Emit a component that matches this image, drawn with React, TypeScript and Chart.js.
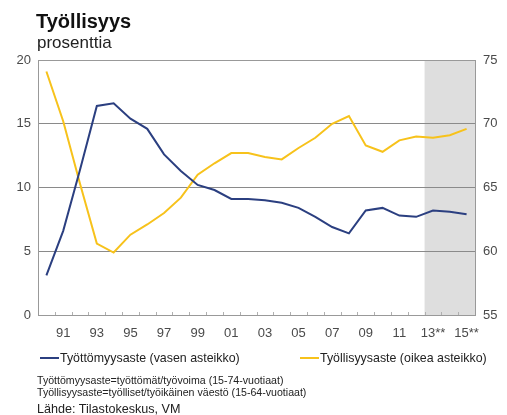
import React, { useEffect, useRef } from "react";
import { Chart, registerables } from "chart.js";

Chart.register(...registerables);

const years = ["1990","1991","1992","1993","1994","1995","1996","1997","1998","1999","2000","2001","2002","2003","2004","2005","2006","2007","2008","2009","2010","2011","2012","2013","2014","2015"];
const xTickLabels = ["","91","","93","","95","","97","","99","","01","","03","","05","","07","","09","","11","","13**","","15**"];
const unemployment = [3.1,6.6,11.4,16.4,16.6,15.4,14.6,12.6,11.3,10.2,9.8,9.1,9.1,9.0,8.8,8.4,7.7,6.9,6.4,8.2,8.4,7.8,7.7,8.2,8.1,7.9];
const employment = [74.1,70.2,65.3,60.6,59.9,61.3,62.1,63.0,64.2,66.0,66.9,67.7,67.7,67.4,67.2,68.1,68.9,70.0,70.6,68.3,67.8,68.7,69.0,68.9,69.1,69.6];
const forecastStartIndex = 23;

const BLUE = "#2b3f80";
const YELLOW = "#f7c21b";
const FONT = "'Liberation Sans', Arial, sans-serif";

export default function App() {
  const ref = useRef<HTMLCanvasElement | null>(null);
  useEffect(() => {
    document.body.style.margin = "0";
    const shade = {
      id: "shade",
      beforeDraw(chart: any) {
        const { ctx, chartArea, scales } = chart;
        const x = scales.x;
        const start = (x.getPixelForValue(forecastStartIndex - 1) + x.getPixelForValue(forecastStartIndex)) / 2;
        ctx.save();
        ctx.fillStyle = "#dedede";
        ctx.fillRect(start, chartArea.top, chartArea.right - start, chartArea.bottom - chartArea.top);
        ctx.restore();
      },
      afterDatasetsDraw(chart: any) {
        const { ctx, chartArea, scales } = chart;
        const x = scales.x;
        ctx.save();
        ctx.strokeStyle = "#b0b0b0";
        ctx.lineWidth = 1;
        for (let i = 0; i < years.length - 1; i++) {
          const p = Math.round((x.getPixelForValue(i) + x.getPixelForValue(i + 1)) / 2) + 0.5;
          ctx.beginPath();
          ctx.moveTo(p, chartArea.bottom);
          ctx.lineTo(p, chartArea.bottom - 3);
          ctx.stroke();
        }
        ctx.strokeStyle = "#999";
        ctx.strokeRect(Math.round(chartArea.left) + 0.5, Math.round(chartArea.top) + 0.5, Math.round(chartArea.right - chartArea.left), Math.round(chartArea.bottom - chartArea.top));
        ctx.restore();
      },
    };
    const chart = new Chart(ref.current!, {
      type: "line",
      data: {
        labels: years,
        datasets: [
          { label: "Työttömyysaste (vasen asteikko)", data: unemployment, borderColor: BLUE, borderWidth: 2, pointRadius: 0, tension: 0, yAxisID: "y" },
          { label: "Työllisyysaste (oikea asteikko)", data: employment, borderColor: YELLOW, borderWidth: 2, pointRadius: 0, tension: 0, yAxisID: "y1" },
        ],
      },
      options: {
        animation: false,
        responsive: false,
        layout: { padding: { top: 60, bottom: 73, left: 0, right: 0 } },
        plugins: { legend: { display: false }, tooltip: { enabled: false }, title: { display: false } },
        scales: {
          x: {
            offset: true,
            grid: { display: false },
            border: { display: false },
            ticks: {
              autoSkip: false,
              maxRotation: 0,
              padding: 3,
              color: "#4a4a4a",
              font: { family: FONT, size: 13 },
              callback: (_v: any, i: number) => xTickLabels[i],
            },
            afterFit: (s: any) => { s.height = 27; },
          },
          y: {
            position: "left",
            min: 0,
            max: 20,
            border: { display: false },
            grid: { color: "#8a8a8a", lineWidth: 1, drawTicks: false },
            ticks: { stepSize: 5, padding: 7, color: "#4a4a4a", font: { family: FONT, size: 13 } },
            afterFit: (s: any) => { s.width = 38; },
          },
          y1: {
            position: "right",
            min: 55,
            max: 75,
            border: { display: false },
            grid: { display: false, drawTicks: false },
            ticks: { stepSize: 5, padding: 8, color: "#4a4a4a", font: { family: FONT, size: 13 } },
            afterFit: (s: any) => { s.width = 32; },
          },
        },
      },
      plugins: [shade],
    });
    return () => chart.destroy();
  }, []);

  const abs: React.CSSProperties = { position: "absolute", fontFamily: FONT, color: "#222", whiteSpace: "nowrap", lineHeight: 1 };
  return (
    <div style={{ position: "relative", width: 507, height: 415, background: "#fff" }}>
      <canvas ref={ref} width={507} height={415} style={{ position: "absolute", left: 0, top: 0 }} />
      <div style={{ ...abs, left: 36, top: 11, fontSize: 20, fontWeight: "bold", color: "#111" }}>Työllisyys</div>
      <div style={{ ...abs, left: 37, top: 34, fontSize: 17, color: "#222" }}>prosenttia</div>
      <div style={{ ...abs, left: 40, top: 352, fontSize: 12.4, display: "flex", alignItems: "center" }}>
        <span style={{ display: "inline-block", width: 19, height: 2, background: BLUE, marginRight: 1 }} />
        Työttömyysaste (vasen asteikko)
      </div>
      <div style={{ ...abs, left: 300, top: 352, fontSize: 12.4, display: "flex", alignItems: "center" }}>
        <span style={{ display: "inline-block", width: 19, height: 2, background: YELLOW, marginRight: 1 }} />
        Työllisyysaste (oikea asteikko)
      </div>
      <div style={{ ...abs, left: 37, top: 375, fontSize: 10.6 }}>Työttömyysaste=työttömät/työvoima (15-74-vuotiaat)</div>
      <div style={{ ...abs, left: 37, top: 387, fontSize: 10.6 }}>Työllisyysaste=työlliset/työikäinen väestö (15-64-vuotiaat)</div>
      <div style={{ ...abs, left: 37, top: 403, fontSize: 12.6 }}>Lähde: Tilastokeskus, VM</div>
    </div>
  );
}
